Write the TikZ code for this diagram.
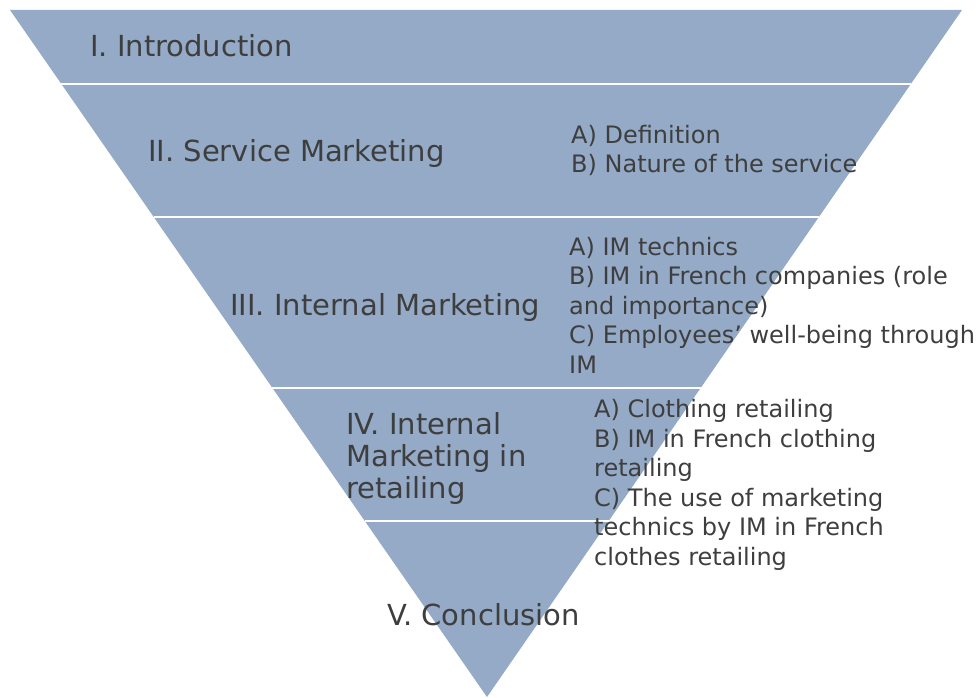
\documentclass[tikz,border=0pt]{standalone}
\usepackage{fontspec}
\setmainfont{DejaVu Sans}
\usetikzlibrary{calc}
\definecolor{funnel}{RGB}{148,170,198}
\definecolor{txt}{RGB}{62,62,62}
\begin{document}
\begin{tikzpicture}[x=1pt,y=-1pt,
  head/.style={anchor=base west,inner sep=0,text=txt,font=\fontsize{29}{32}\selectfont,align=left},
  sub/.style={anchor=base west,inner sep=0,text=txt,font=\fontsize{24}{29.5}\selectfont,align=left},
  sepline/.style={draw=white,line width=2pt}]
\useasboundingbox (0,0) rectangle (978,698);
\coordinate (tl) at (10,10);
\coordinate (tr) at (962,10);
\coordinate (ap) at (487,697);
\fill[funnel] (tl) -- (tr) -- (ap) -- cycle;
\foreach \p in {0.1077,0.3013,0.5502,0.7438}{
  \draw[sepline] ($(tl)!\p!(ap)$) -- ($(tr)!\p!(ap)$);
}
% multi-line nodes: base anchor is the baseline of the last line
\node[head] (h1) at (90,57) {I. Introduction};
\node[head] (h2) at (148,162) {II. Service Marketing};
\node[head] (h3) at (230,315) {III. Internal Marketing};
\node[head] (h4) at (346,498) {IV. Internal\\Marketing in\\retailing};
\node[head] (h5) at (387,625) {V. Conclusion};
\node[sub] (s2) at (571,173) {A) Definition\\B) Nature of the service};
\node[sub] (s3) at (569,373) {A) IM technics\\B) IM in French companies (role\\and importance)\\C) Employees’ well-being through\\IM};
\node[sub] (s4) at (594,565) {A) Clothing retailing\\B) IM in French clothing\\retailing\\C) The use of marketing\\technics by IM in French\\clothes retailing};
\end{tikzpicture}
\end{document}
